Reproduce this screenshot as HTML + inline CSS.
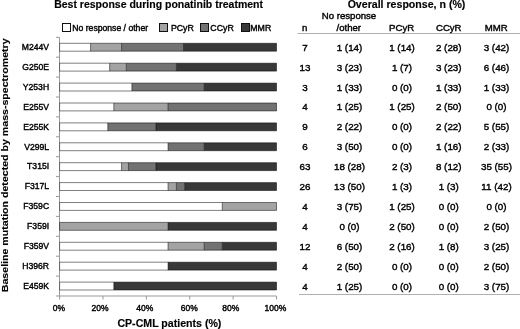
<!DOCTYPE html><html><head><meta charset="utf-8"><style>html,body{margin:0;padding:0;background:#fff;overflow:hidden;width:520px;height:329px}svg{display:block}text{font-family:"Liberation Sans",sans-serif;fill:#000;stroke:#000;stroke-width:0.4px}text[font-weight=bold]{stroke-width:0.15px}svg{will-change:transform}</style></head><body>
<svg width="520" height="329" viewBox="0 0 520 329">
<text x="158.6" y="7.9" font-size="10.5" font-weight="bold" text-anchor="middle">Best response during ponatinib treatment</text>
<text x="406.5" y="7.9" font-size="10.6" font-weight="bold" text-anchor="middle">Overall response, n (%)</text>
<rect x="62.5" y="23.5" width="8" height="8" fill="#ffffff" stroke="#111" stroke-width="1"/>
<text x="72.3" y="31.1" font-size="8.65">No response / other</text>
<rect x="159.5" y="23.5" width="8" height="8" fill="#a3a3a3" stroke="#111" stroke-width="1"/>
<text x="170.9" y="31.1" font-size="8.8">PCyR</text>
<rect x="200.5" y="23.5" width="8" height="8" fill="#727272" stroke="#111" stroke-width="1"/>
<text x="210.3" y="31.1" font-size="8.8">CCyR</text>
<rect x="241.5" y="23.5" width="8" height="8" fill="#383838" stroke="#111" stroke-width="1"/>
<text x="250.3" y="31.1" font-size="8.8">MMR</text>
<text transform="translate(7.5,165.3) rotate(-90) scale(1,0.9)" font-size="10.6" font-weight="bold" text-anchor="middle">Baseline mutation detected by mass-spectrometry</text>
<path d="M59.5 37.3V296.5 M56 37.30H59.5 M56 57.20H59.5 M56 77.10H59.5 M56 97.00H59.5 M56 116.90H59.5 M56 136.80H59.5 M56 156.70H59.5 M56 176.60H59.5 M56 196.50H59.5 M56 216.40H59.5 M56 236.30H59.5 M56 256.20H59.5 M56 276.10H59.5 M56 296.00H59.5 M59.5 296H276.5 M59.60 296V299.5 M102.98 296V299.5 M146.36 296V299.5 M189.74 296V299.5 M233.12 296V299.5 M276.50 296V299.5" stroke="#999" stroke-width="1" fill="none"/>
<rect x="59.60" y="43.30" width="30.99" height="7.90" fill="#ffffff"/>
<rect x="90.59" y="43.30" width="30.99" height="7.90" fill="#a3a3a3"/>
<rect x="121.57" y="43.30" width="61.97" height="7.90" fill="#727272"/>
<rect x="183.54" y="43.30" width="92.96" height="7.90" fill="#383838"/>
<path d="M59.60 43.30H276.50V51.20H59.60ZM90.59 43.30V51.20M121.57 43.30V51.20M183.54 43.30V51.20" fill="none" stroke="#000" stroke-opacity="0.5" stroke-width="1.0"/>
<text x="49.1" y="50.00" font-size="8.6" text-anchor="end">M244V</text>
<text x="305.0" y="50.75" font-size="9.8" text-anchor="middle">7</text>
<text x="349.5" y="50.75" font-size="9.8" text-anchor="middle">1 (14)</text>
<text x="402.0" y="50.75" font-size="9.8" text-anchor="middle">1 (14)</text>
<text x="448.75" y="50.75" font-size="9.8" text-anchor="middle">2 (28)</text>
<text x="496.5" y="50.75" font-size="9.8" text-anchor="middle">3 (42)</text>
<rect x="59.60" y="63.20" width="50.05" height="7.90" fill="#ffffff"/>
<rect x="109.65" y="63.20" width="16.68" height="7.90" fill="#a3a3a3"/>
<rect x="126.34" y="63.20" width="50.05" height="7.90" fill="#727272"/>
<rect x="176.39" y="63.20" width="100.11" height="7.90" fill="#383838"/>
<path d="M59.60 63.20H276.50V71.10H59.60ZM109.65 63.20V71.10M126.34 63.20V71.10M176.39 63.20V71.10" fill="none" stroke="#000" stroke-opacity="0.5" stroke-width="1.0"/>
<text x="49.1" y="69.90" font-size="8.6" text-anchor="end">G250E</text>
<text x="305.0" y="70.65" font-size="9.8" text-anchor="middle">13</text>
<text x="349.5" y="70.65" font-size="9.8" text-anchor="middle">3 (23)</text>
<text x="402.0" y="70.65" font-size="9.8" text-anchor="middle">1 (7)</text>
<text x="448.75" y="70.65" font-size="9.8" text-anchor="middle">3 (23)</text>
<text x="496.5" y="70.65" font-size="9.8" text-anchor="middle">6 (46)</text>
<rect x="59.60" y="83.10" width="72.30" height="7.90" fill="#ffffff"/>
<rect x="131.90" y="83.10" width="72.30" height="7.90" fill="#727272"/>
<rect x="204.20" y="83.10" width="72.30" height="7.90" fill="#383838"/>
<path d="M59.60 83.10H276.50V91.00H59.60ZM131.90 83.10V91.00M204.20 83.10V91.00" fill="none" stroke="#000" stroke-opacity="0.5" stroke-width="1.0"/>
<text x="49.1" y="89.80" font-size="8.6" text-anchor="end">Y253H</text>
<text x="305.0" y="90.55" font-size="9.8" text-anchor="middle">3</text>
<text x="349.5" y="90.55" font-size="9.8" text-anchor="middle">1 (33)</text>
<text x="402.0" y="90.55" font-size="9.8" text-anchor="middle">0 (0)</text>
<text x="448.75" y="90.55" font-size="9.8" text-anchor="middle">1 (33)</text>
<text x="496.5" y="90.55" font-size="9.8" text-anchor="middle">1 (33)</text>
<rect x="59.60" y="103.00" width="54.23" height="7.90" fill="#ffffff"/>
<rect x="113.83" y="103.00" width="54.23" height="7.90" fill="#a3a3a3"/>
<rect x="168.05" y="103.00" width="108.45" height="7.90" fill="#727272"/>
<path d="M59.60 103.00H276.50V110.90H59.60ZM113.83 103.00V110.90M168.05 103.00V110.90" fill="none" stroke="#000" stroke-opacity="0.5" stroke-width="1.0"/>
<text x="49.1" y="109.70" font-size="8.6" text-anchor="end">E255V</text>
<text x="305.0" y="110.45" font-size="9.8" text-anchor="middle">4</text>
<text x="349.5" y="110.45" font-size="9.8" text-anchor="middle">1 (25)</text>
<text x="402.0" y="110.45" font-size="9.8" text-anchor="middle">1 (25)</text>
<text x="448.75" y="110.45" font-size="9.8" text-anchor="middle">2 (50)</text>
<text x="496.5" y="110.45" font-size="9.8" text-anchor="middle">0 (0)</text>
<rect x="59.60" y="122.90" width="48.20" height="7.90" fill="#ffffff"/>
<rect x="107.80" y="122.90" width="48.20" height="7.90" fill="#727272"/>
<rect x="156.00" y="122.90" width="120.50" height="7.90" fill="#383838"/>
<path d="M59.60 122.90H276.50V130.80H59.60ZM107.80 122.90V130.80M156.00 122.90V130.80" fill="none" stroke="#000" stroke-opacity="0.5" stroke-width="1.0"/>
<text x="49.1" y="129.60" font-size="8.6" text-anchor="end">E255K</text>
<text x="305.0" y="130.35" font-size="9.8" text-anchor="middle">9</text>
<text x="349.5" y="130.35" font-size="9.8" text-anchor="middle">2 (22)</text>
<text x="402.0" y="130.35" font-size="9.8" text-anchor="middle">0 (0)</text>
<text x="448.75" y="130.35" font-size="9.8" text-anchor="middle">2 (22)</text>
<text x="496.5" y="130.35" font-size="9.8" text-anchor="middle">5 (55)</text>
<rect x="59.60" y="142.80" width="108.45" height="7.90" fill="#ffffff"/>
<rect x="168.05" y="142.80" width="36.15" height="7.90" fill="#727272"/>
<rect x="204.20" y="142.80" width="72.30" height="7.90" fill="#383838"/>
<path d="M59.60 142.80H276.50V150.70H59.60ZM168.05 142.80V150.70M204.20 142.80V150.70" fill="none" stroke="#000" stroke-opacity="0.5" stroke-width="1.0"/>
<text x="49.1" y="149.50" font-size="8.6" text-anchor="end">V299L</text>
<text x="305.0" y="150.25" font-size="9.8" text-anchor="middle">6</text>
<text x="349.5" y="150.25" font-size="9.8" text-anchor="middle">3 (50)</text>
<text x="402.0" y="150.25" font-size="9.8" text-anchor="middle">0 (0)</text>
<text x="448.75" y="150.25" font-size="9.8" text-anchor="middle">1 (16)</text>
<text x="496.5" y="150.25" font-size="9.8" text-anchor="middle">2 (33)</text>
<rect x="59.60" y="162.70" width="61.97" height="7.90" fill="#ffffff"/>
<rect x="121.57" y="162.70" width="6.89" height="7.90" fill="#a3a3a3"/>
<rect x="128.46" y="162.70" width="27.54" height="7.90" fill="#727272"/>
<rect x="156.00" y="162.70" width="120.50" height="7.90" fill="#383838"/>
<path d="M59.60 162.70H276.50V170.60H59.60ZM121.57 162.70V170.60M128.46 162.70V170.60M156.00 162.70V170.60" fill="none" stroke="#000" stroke-opacity="0.5" stroke-width="1.0"/>
<text x="49.1" y="169.40" font-size="8.6" text-anchor="end">T315I</text>
<text x="305.0" y="170.15" font-size="9.8" text-anchor="middle">63</text>
<text x="349.5" y="170.15" font-size="9.8" text-anchor="middle">18 (28)</text>
<text x="402.0" y="170.15" font-size="9.8" text-anchor="middle">2 (3)</text>
<text x="448.75" y="170.15" font-size="9.8" text-anchor="middle">8 (12)</text>
<text x="496.5" y="170.15" font-size="9.8" text-anchor="middle">35 (55)</text>
<rect x="59.60" y="182.60" width="108.45" height="7.90" fill="#ffffff"/>
<rect x="168.05" y="182.60" width="8.34" height="7.90" fill="#a3a3a3"/>
<rect x="176.39" y="182.60" width="8.34" height="7.90" fill="#727272"/>
<rect x="184.73" y="182.60" width="91.77" height="7.90" fill="#383838"/>
<path d="M59.60 182.60H276.50V190.50H59.60ZM168.05 182.60V190.50M176.39 182.60V190.50M184.73 182.60V190.50" fill="none" stroke="#000" stroke-opacity="0.5" stroke-width="1.0"/>
<text x="49.1" y="189.30" font-size="8.6" text-anchor="end">F317L</text>
<text x="305.0" y="190.05" font-size="9.8" text-anchor="middle">26</text>
<text x="349.5" y="190.05" font-size="9.8" text-anchor="middle">13 (50)</text>
<text x="402.0" y="190.05" font-size="9.8" text-anchor="middle">1 (3)</text>
<text x="448.75" y="190.05" font-size="9.8" text-anchor="middle">1 (3)</text>
<text x="496.5" y="190.05" font-size="9.8" text-anchor="middle">11 (42)</text>
<rect x="59.60" y="202.50" width="162.68" height="7.90" fill="#ffffff"/>
<rect x="222.28" y="202.50" width="54.22" height="7.90" fill="#a3a3a3"/>
<path d="M59.60 202.50H276.50V210.40H59.60ZM222.28 202.50V210.40" fill="none" stroke="#000" stroke-opacity="0.5" stroke-width="1.0"/>
<text x="49.1" y="209.20" font-size="8.6" text-anchor="end">F359C</text>
<text x="305.0" y="209.95" font-size="9.8" text-anchor="middle">4</text>
<text x="349.5" y="209.95" font-size="9.8" text-anchor="middle">3 (75)</text>
<text x="402.0" y="209.95" font-size="9.8" text-anchor="middle">1 (25)</text>
<text x="448.75" y="209.95" font-size="9.8" text-anchor="middle">0 (0)</text>
<text x="496.5" y="209.95" font-size="9.8" text-anchor="middle">0 (0)</text>
<rect x="59.60" y="222.40" width="108.45" height="7.90" fill="#a3a3a3"/>
<rect x="168.05" y="222.40" width="108.45" height="7.90" fill="#383838"/>
<path d="M59.60 222.40H276.50V230.30H59.60ZM168.05 222.40V230.30" fill="none" stroke="#000" stroke-opacity="0.5" stroke-width="1.0"/>
<text x="49.1" y="229.10" font-size="8.6" text-anchor="end">F359I</text>
<text x="305.0" y="229.85" font-size="9.8" text-anchor="middle">4</text>
<text x="349.5" y="229.85" font-size="9.8" text-anchor="middle">0 (0)</text>
<text x="402.0" y="229.85" font-size="9.8" text-anchor="middle">2 (50)</text>
<text x="448.75" y="229.85" font-size="9.8" text-anchor="middle">0 (0)</text>
<text x="496.5" y="229.85" font-size="9.8" text-anchor="middle">2 (50)</text>
<rect x="59.60" y="242.30" width="108.45" height="7.90" fill="#ffffff"/>
<rect x="168.05" y="242.30" width="36.15" height="7.90" fill="#a3a3a3"/>
<rect x="204.20" y="242.30" width="18.08" height="7.90" fill="#727272"/>
<rect x="222.28" y="242.30" width="54.22" height="7.90" fill="#383838"/>
<path d="M59.60 242.30H276.50V250.20H59.60ZM168.05 242.30V250.20M204.20 242.30V250.20M222.28 242.30V250.20" fill="none" stroke="#000" stroke-opacity="0.5" stroke-width="1.0"/>
<text x="49.1" y="249.00" font-size="8.6" text-anchor="end">F359V</text>
<text x="305.0" y="249.75" font-size="9.8" text-anchor="middle">12</text>
<text x="349.5" y="249.75" font-size="9.8" text-anchor="middle">6 (50)</text>
<text x="402.0" y="249.75" font-size="9.8" text-anchor="middle">2 (16)</text>
<text x="448.75" y="249.75" font-size="9.8" text-anchor="middle">1 (8)</text>
<text x="496.5" y="249.75" font-size="9.8" text-anchor="middle">3 (25)</text>
<rect x="59.60" y="262.20" width="108.45" height="7.90" fill="#ffffff"/>
<rect x="168.05" y="262.20" width="108.45" height="7.90" fill="#383838"/>
<path d="M59.60 262.20H276.50V270.10H59.60ZM168.05 262.20V270.10" fill="none" stroke="#000" stroke-opacity="0.5" stroke-width="1.0"/>
<text x="49.1" y="268.90" font-size="8.6" text-anchor="end">H396R</text>
<text x="305.0" y="269.65" font-size="9.8" text-anchor="middle">4</text>
<text x="349.5" y="269.65" font-size="9.8" text-anchor="middle">2 (50)</text>
<text x="402.0" y="269.65" font-size="9.8" text-anchor="middle">0 (0)</text>
<text x="448.75" y="269.65" font-size="9.8" text-anchor="middle">0 (0)</text>
<text x="496.5" y="269.65" font-size="9.8" text-anchor="middle">2 (50)</text>
<rect x="59.60" y="282.10" width="54.23" height="7.90" fill="#ffffff"/>
<rect x="113.83" y="282.10" width="162.68" height="7.90" fill="#383838"/>
<path d="M59.60 282.10H276.50V290.00H59.60ZM113.83 282.10V290.00" fill="none" stroke="#000" stroke-opacity="0.5" stroke-width="1.0"/>
<text x="49.1" y="288.80" font-size="8.6" text-anchor="end">E459K</text>
<text x="305.0" y="289.55" font-size="9.8" text-anchor="middle">4</text>
<text x="349.5" y="289.55" font-size="9.8" text-anchor="middle">1 (25)</text>
<text x="402.0" y="289.55" font-size="9.8" text-anchor="middle">0 (0)</text>
<text x="448.75" y="289.55" font-size="9.8" text-anchor="middle">0 (0)</text>
<text x="496.5" y="289.55" font-size="9.8" text-anchor="middle">3 (75)</text>
<text x="58.95" y="311.3" font-size="8.5" text-anchor="middle">0%</text>
<text x="100.10" y="311.3" font-size="8.5" text-anchor="middle">20%</text>
<text x="144.70" y="311.3" font-size="8.5" text-anchor="middle">40%</text>
<text x="189.25" y="311.3" font-size="8.5" text-anchor="middle">60%</text>
<text x="230.70" y="311.3" font-size="8.5" text-anchor="middle">80%</text>
<text x="275.40" y="311.3" font-size="8.5" text-anchor="middle">100%</text>
<text x="169.4" y="326.5" font-size="10.6" font-weight="bold" text-anchor="middle">CP-CML patients (%)</text>
<path d="M297.5 33.5H520M299 294.5H520" stroke="#b0b0b0" stroke-width="1"/>
<text x="304.7" y="30.6" font-size="9.6" text-anchor="middle">n</text>
<text x="349" y="18.7" font-size="9.6" text-anchor="middle">No response</text>
<text x="348.8" y="30.6" font-size="9.6" text-anchor="middle">/other</text>
<text x="401.6" y="30.6" font-size="9.6" text-anchor="middle">PCyR</text>
<text x="448.75" y="30.6" font-size="9.6" text-anchor="middle">CCyR</text>
<text x="496.3" y="30.6" font-size="9.6" text-anchor="middle">MMR</text>
</svg></body></html>
